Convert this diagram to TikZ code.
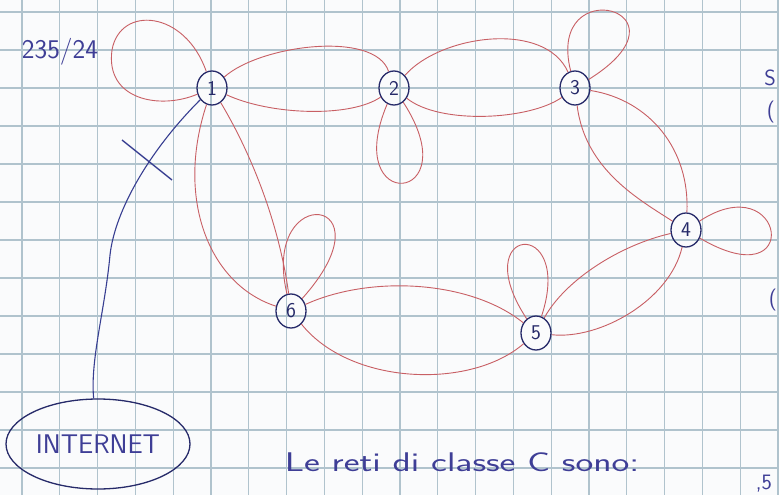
\documentclass[tikz,border=0pt]{standalone}
\usetikzlibrary{shapes.geometric}
\definecolor{paper}{RGB}{250,251,252}
\definecolor{gridc}{RGB}{176,195,205}
\definecolor{redink}{RGB}{200,95,100}
\definecolor{nodeink}{RGB}{38,42,105}
\definecolor{blueink}{RGB}{55,62,145}
\definecolor{textink}{RGB}{62,62,150}
\tikzset{
  gridline/.style={draw=gridc, line width=1.3pt},
  pnode/.style={ellipse, draw=nodeink, line width=1.3pt, minimum width=30pt, minimum height=34pt,
    inner sep=0pt, text=nodeink, font=\sffamily\fontsize{21}{21}\selectfont},
  inetnode/.style={ellipse, draw=nodeink, line width=1.3pt, minimum width=184pt, minimum height=90pt,
    inner sep=0pt, text=textink, font=\sffamily\fontsize{27}{27}\selectfont},
  redline/.style={draw=redink, line width=0.9pt},
  blueline/.style={draw=blueink, line width=1.1pt},
  inktext/.style={text=textink, inner sep=0pt, font=\sffamily\fontsize{22}{22}\selectfont}
}
\begin{document}
\begin{tikzpicture}[x=1pt,y=-1pt]
\useasboundingbox (0,0) rectangle (779,495);
\fill[paper] (0,0) rectangle (779,495);
% graph paper
\foreach \i in {0,...,20} { \draw[gridline] ({22+37.8*\i},0) -- ({22+37.8*\i},495); }
\foreach \j in {0,...,12} { \draw[gridline] (0,{12+38*\j}) -- (779,{12+38*\j}); }

% nodes
\node[pnode] (n1) at (212,88) {1};
\node[pnode] (n2) at (394,88) {2};
\node[pnode] (n3) at (575,88) {3};
\node[pnode] (n4) at (686,230) {4};
\node[pnode] (n5) at (536,333) {5};
\node[pnode] (n6) at (291,311) {6};
\node[inetnode] (inet) at (98,444) {INTERNET};

% texts
\node[inktext, font=\sffamily\fontsize{27}{27}\selectfont] (ip) at (60,52) {235/24};
\node[inktext, font=\sffamily\fontsize{27}{27}\selectfont, xscale=1.4, transform shape] (cap) at (462,462) {Le reti di classe C sono:};
\node[inktext] (ms) at (770,78) {S};
\node[inktext] (mp) at (771,112) {(};
\node[inktext] (mp2) at (773,300) {(};
\node[inktext] (m5) at (764,484) {,5};

% self loops
\draw[redline] (n1) .. controls (185,10) and (120,5) .. (112,50)
                    .. controls (105,100) and (160,110) .. (n1);
\draw[redline] (n2) .. controls (340,215) and (470,205) .. (n2);
\draw[redline] (n3) .. controls (545,-30) and (700,10) .. (n3);
\draw[redline] (n4) .. controls (785,165) and (805,300) .. (n4);
\draw[redline] (n5) .. controls (575,215) and (465,225) .. (n5);
\draw[redline] (n6) .. controls (260,180) and (395,195) .. (n6);

% lens edges
\draw[redline] (n1) .. controls (260,45) and (375,30) .. (n2);
\draw[redline] (n1) .. controls (270,115) and (350,118) .. (n2);
\draw[redline] (n2) .. controls (440,35) and (545,20) .. (n3);
\draw[redline] (n2) .. controls (440,125) and (530,120) .. (n3);
\draw[redline] (n3) .. controls (585,170) and (640,200) .. (n4);
\draw[redline] (n3) .. controls (650,100) and (690,150) .. (n4);
\draw[redline] (n4) .. controls (620,245) and (565,280) .. (n5);
\draw[redline] (n4) .. controls (670,300) and (600,340) .. (n5);
\draw[redline] (n6) .. controls (370,275) and (470,280) .. (n5);
\draw[redline] (n6) .. controls (350,385) and (470,390) .. (n5);
\draw[redline] (n1) .. controls (175,200) and (210,285) .. (n6);
\draw[redline] (n1) .. controls (255,160) and (280,230) .. (n6);

% internet link with cut mark
\draw[blueline] (n1) .. controls (150,150) and (115,210) .. (110,255)
                     .. controls (105,310) and (90,360) .. (inet);
\coordinate (cutA) at (122,140);
\coordinate (cutB) at (172,180);
\draw[blueline, line width=1.4pt] (cutA) -- (cutB);
\end{tikzpicture}
\end{document}
